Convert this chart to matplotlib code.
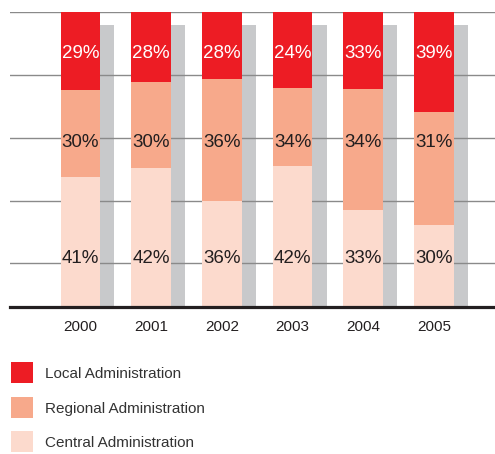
import matplotlib
matplotlib.use("Agg")
import matplotlib.pyplot as plt
from matplotlib.patches import Rectangle
import numpy as np

years = ["2000", "2001", "2002", "2003", "2004", "2005"]
series = ["Local Administration", "Regional Administration", "Central Administration"]
# printed percentages
local_pct = [29, 28, 28, 24, 33, 39]
regional_pct = [30, 30, 36, 34, 34, 31]
central_pct = [41, 42, 36, 42, 33, 30]
# segment heights as drawn in the picture (share of full bar)
central_drawn = [44.1, 47.0, 36.0, 47.9, 32.9, 27.8]
regional_drawn = [29.4, 29.2, 41.3, 26.4, 41.0, 38.3]
local_drawn = [26.5, 23.8, 22.7, 25.7, 26.1, 33.9]

colors = {"Local Administration": "#ed1c24",
          "Regional Administration": "#f7a98b",
          "Central Administration": "#fcdacd"}
shadow_color = "#c8c9cb"
dark = "#231f20"

num_kw = dict(family="Liberation Sans", fontsize=13.5)

W, H = 495, 454
fig = plt.figure(figsize=(W / 100, H / 100), dpi=100)
ax_left, ax_right, ax_top, ax_bot = 10, 495, 12, 307
ax = fig.add_axes([ax_left / W, 1 - ax_bot / H, (ax_right - ax_left) / W, (ax_bot - ax_top) / H])
ax.set_xlim(-0.997, 5.863)
ax.set_ylim(0, 100)
ax.axis("off")

x = np.arange(len(years))
bw = 0.56
shadow_dx = 0.2
shadow_drop = 4.4

# shadow bars
ax.bar(x + shadow_dx, np.full(len(years), 100 - shadow_drop), width=bw, color=shadow_color, zorder=1, linewidth=0)
# grid lines
for gy in [14.8, 36.0, 57.4, 78.6, 100]:
    ax.axhline(gy, color="#8a8a8a", lw=1.0, zorder=2)

c = np.array(central_drawn)
r = np.array(regional_drawn)
l = np.array(local_drawn)
ax.bar(x, c, width=bw, color=colors["Central Administration"], zorder=3, linewidth=0)
ax.bar(x, r, bottom=c, width=bw, color=colors["Regional Administration"], zorder=3, linewidth=0)
ax.bar(x, l, bottom=c + r, width=bw, color=colors["Local Administration"], zorder=3, linewidth=0)

ax.axhline(0, color=dark, lw=2.3, zorder=5, clip_on=False)

for i in range(len(years)):
    ax.text(x[i], 86.1, f"{local_pct[i]}%", ha="center", va="center", color="white",
            zorder=6, **num_kw)
    ax.text(x[i], 55.9, f"{regional_pct[i]}%", ha="center", va="center", color=dark,
            zorder=6, **num_kw)
    ax.text(x[i], 16.3, f"{central_pct[i]}%", ha="center", va="center", color=dark,
            zorder=6, **num_kw)
    ax.text(x[i], -6.9, years[i], ha="center", va="center", color=dark,
            fontsize=11, family="Liberation Sans")

# legend
rows_y = [362, 397, 431]
for name, yy in zip(series, rows_y):
    fig.add_artist(Rectangle((11 / W, 1 - (yy + 21) / H), 22 / W, 21 / H,
                             transform=fig.transFigure, color=colors[name], linewidth=0))
    fig.text(45 / W, 1 - (yy + 12) / H, name, ha="left", va="center",
             fontsize=11, color="#333333", family="Liberation Sans")

fig.savefig("out.png", dpi=100)
